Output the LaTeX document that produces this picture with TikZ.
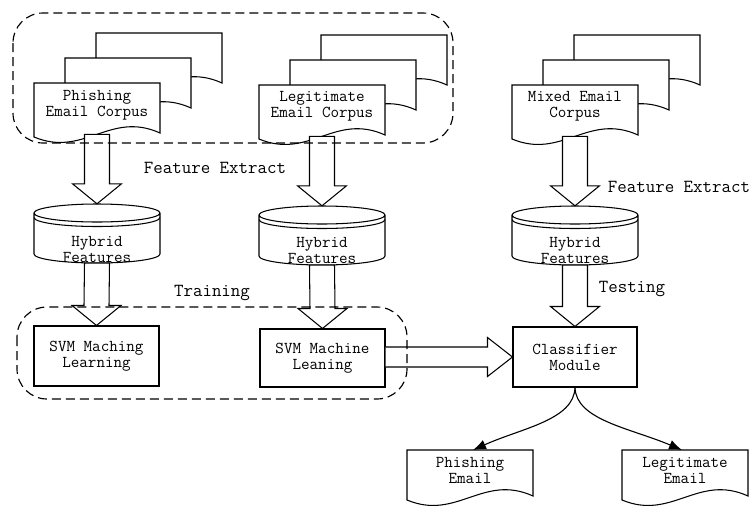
\documentclass[tikz,border=0pt]{standalone}
\usetikzlibrary{arrows.meta,calc}

\tikzset{
  x=1pt, y=-1pt,
  shapeline/.style={draw=black, line width=1.05pt, fill=white, line join=miter},
  txt/.style={font=\ttfamily\fontsize{16.6}{16}\selectfont, align=center, inner sep=0pt},
  lbl/.style={font=\ttfamily\fontsize{18.4}{18}\selectfont, inner sep=0pt},
  procbox/.style={shapeline, txt, minimum width=125pt, minimum height=60pt},
  groupbox/.style={draw=black, line width=1.15pt, dash pattern=on 9pt off 5pt, rounded corners=30pt},
  curvearrow/.style={draw=black, line width=1.1pt, -{Latex[length=13pt,width=10pt]}},
}

% paper sheet with a wavy bottom edge: name, left x, top y, height
\newcommand\paper[4]{%
  \draw[shapeline] (#2,#3+#4) -- (#2,#3) -- (#2+126,#3) -- (#2+126,#3+#4-4)
    .. controls (#2+76,#3+#4-26.7) and (#2+50,#3+#4+20.9) .. (#2,#3+#4) -- cycle;
  \coordinate (#1) at (#2+63,#3+#4-2.7);
}

% database cylinder drawn around a named node: name, left x, top y
\newcommand\database[3]{%
  \node[minimum width=126pt, minimum height=59pt, inner sep=0pt] (#1) at (#2+63,#3+29.5) {};
  \draw[shapeline] (#2,#3+9) -- (#2,#3+50) arc[start angle=180, end angle=360, x radius=63, y radius=-9]
    -- (#2+126,#3+9) arc[start angle=0, end angle=360, x radius=63, y radius=-9];
  \draw[line width=1.05pt] (#2,#3+13.5) arc[start angle=180, end angle=360, x radius=63, y radius=-9];
}

% hollow downward block arrow from (#1) to (#2)
\newcommand\downblock[2]{%
  \draw[shapeline] ($(#1)+(-12.5,0)$) -- ($(#2)+(-12.5,-20)$) -- ($(#2)+(-24.5,-20)$) -- (#2)
    -- ($(#2)+(24.5,-20)$) -- ($(#2)+(12.5,-20)$) -- ($(#1)+(12.5,0)$) -- cycle;
}

\begin{document}
\begin{tikzpicture}
\useasboundingbox (0,0) rectangle (753,507);

% ---------- corpora ----------
\paper{pback}{96}{33}{54}
\paper{pmid}{65}{58}{54}
\paper{pfront}{34}{83}{54}
\node[txt] (ptext) at (97,105) {Phishing\\Email Corpus};

\paper{lback}{321}{35}{54}
\paper{lmid}{290}{60}{54}
\paper{lfront}{259}{85}{54}
\node[txt] (ltext) at (322,106) {Legitimate\\Email Corpus};

\paper{mback}{574}{35}{54}
\paper{mmid}{543}{60}{54}
\paper{mfront}{512}{85}{54}
\node[txt] (mtext) at (575,106) {Mixed Email\\Corpus};

% ---------- hybrid feature stores ----------
\database{hf1}{34}{204}
\node[txt] (hf1text) at (97,249) {Hybrid\\Features};
\database{hf2}{259}{206}
\node[txt] (hf2text) at (322,250) {Hybrid\\Features};
\database{hf3}{512}{206}
\node[txt] (hf3text) at (575,250) {Hybrid\\Features};

% ---------- processing boxes ----------
\node[procbox] (svm1) at (96.5,356) {SVM Maching\\Learning};
\node[procbox, minimum height=58pt] (svm2) at (322.5,358) {SVM Machine\\Leaning};
\node[procbox, minimum width=124pt] (cls) at (575,357) {Classifier\\Module};

% ---------- block arrows ----------
\downblock{pfront}{hf1.north}
\downblock{lfront}{hf2.north}
\downblock{mfront}{hf3.north}
\downblock{hf1.south}{svm1.north}
\downblock{hf2.south}{svm2.north}
\downblock{hf3.south}{cls.north}

\coordinate (hstart) at (svm2.east |- cls.west);
\draw[shapeline] ($(hstart)+(0,-10)$) -- ($(cls.west)+(-25,-10)$) -- ($(cls.west)+(-25,-19.5)$)
  -- (cls.west) -- ($(cls.west)+(-25,19.5)$) -- ($(cls.west)+(-25,10)$) -- ($(hstart)+(0,10)$);

% ---------- outputs ----------
\paper{peout}{407}{450}{50}
\node[minimum width=126pt, minimum height=1pt, inner sep=0pt, anchor=north] (pe) at (470,450) {};
\node[txt] (petext) at (470,470.5) {Phishing\\Email};
\paper{leout}{622}{450}{50}
\node[minimum width=126pt, minimum height=1pt, inner sep=0pt, anchor=north] (le) at (685,450) {};
\node[txt] (letext) at (685,470.5) {Legitimate\\Email};

\draw[curvearrow] (cls.south) .. controls (574,420) and (522,428) .. ($(pe.north)+(3,0)$);
\draw[curvearrow] (cls.south) .. controls (576,420) and (630,428) .. ($(le.north)+(-3,0)$);

% ---------- groups and labels ----------
\draw[groupbox] (13,13) rectangle (453,143);
\draw[groupbox] (17,307) rectangle (407,399);

\node[lbl] (fe1) at (215,168) {Feature Extract};
\node[lbl] (fe2) at (679,187) {Feature Extract};
\node[lbl] (train) at (212,293) {Training};
\node[lbl] (test) at (632,289) {Testing};
\end{tikzpicture}
\end{document}
